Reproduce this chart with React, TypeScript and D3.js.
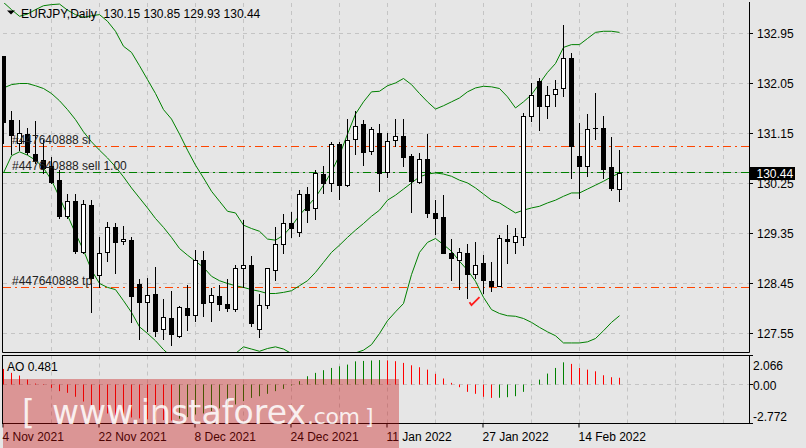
import React, { useEffect } from "react";
import * as d3 from "d3";

// ---------- data ----------
const symbolTitle = "EURJPY,Daily  130.15 130.85 129.93 130.44";
const aoTitle = "AO 0.481";

const tickIdx = [0, 12, 24, 36, 48, 60, 72];
const tickLabels = ["4 Nov 2021", "22 Nov 2021", "8 Dec 2021", "24 Dec 2021", "11 Jan 2022", "27 Jan 2022", "14 Feb 2022"];
const priceTicks = [132.95, 132.05, 131.15, 130.25, 129.35, 128.45, 127.55];
const aoTicks = [2.066, 0, -2.772];

const opens = [132.54, 131.40, 130.98, 131.14, 130.79, 130.67, 130.56, 130.31, 129.67, 129.93,
  129.02, 129.86, 128.61, 129.02, 129.46, 129.21, 129.24, 128.44, 128.11, 128.26,
  127.63, 127.83, 127.50, 128.00, 127.88, 128.88, 128.11, 128.23, 128.08, 127.99,
  128.73, 128.78, 127.63, 128.06, 128.70, 129.17, 129.53, 129.37, 130.06, 129.80,
  130.42, 130.25, 130.96, 130.23, 131.05, 131.32, 130.84, 131.16, 130.45, 131.03,
  131.10, 130.74, 130.28, 130.69, 129.71, 129.64, 129.00, 128.88, 129.00, 128.63,
  128.81, 128.50, 128.40, 129.26, 129.20, 129.29, 131.46, 132.09, 131.65, 131.86,
  131.97, 132.51, 130.75, 130.57, 131.25, 131.25, 130.55, 130.15];
const highs = [132.55, 131.55, 131.40, 131.25, 131.38, 131.03, 130.72, 130.49, 130.07, 130.06,
  129.95, 129.95, 129.29, 129.55, 129.54, 129.48, 129.28, 128.53, 128.55, 128.74,
  128.17, 128.31, 128.05, 128.43, 129.06, 129.03, 128.37, 128.43, 128.53, 128.78,
  129.59, 128.94, 128.26, 128.72, 129.46, 129.70, 129.74, 130.13, 130.19, 130.50,
  130.56, 130.99, 130.99, 131.41, 131.56, 131.40, 131.26, 131.32, 131.16, 131.42,
  131.41, 130.79, 130.80, 131.14, 129.95, 130.04, 129.26, 129.09, 129.17, 129.20,
  128.97, 128.83, 129.33, 129.50, 129.44, 131.52, 132.06, 132.15, 132.00, 132.12,
  133.11, 132.59, 131.34, 131.50, 131.87, 131.47, 131.09, 130.85];
const lows = [130.98, 130.79, 130.85, 130.79, 130.62, 130.43, 130.25, 129.63, 129.63, 128.99,
  128.99, 127.93, 128.38, 128.85, 128.64, 129.17, 127.75, 127.45, 127.60, 127.51,
  127.46, 127.35, 127.48, 127.61, 127.78, 127.87, 127.77, 127.97, 127.95, 127.95,
  128.38, 127.69, 127.48, 128.00, 128.52, 129.00, 129.28, 129.30, 129.56, 129.61,
  130.08, 130.12, 129.98, 130.21, 130.79, 130.58, 130.78, 130.12, 130.37, 130.93,
  130.56, 129.73, 130.26, 129.65, 129.35, 128.99, 128.52, 128.35, 128.19, 128.55,
  128.27, 128.32, 128.40, 128.82, 129.00, 129.15, 131.38, 131.22, 131.43, 131.65,
  131.82, 130.35, 129.99, 130.39, 131.05, 130.35, 130.13, 129.93];
const closes = [131.36, 131.13, 131.16, 130.81, 130.67, 130.52, 130.28, 129.67, 129.93, 129.03,
  129.88, 128.55, 129.00, 129.46, 129.20, 129.26, 128.23, 128.12, 128.25, 127.59,
  127.85, 127.54, 128.02, 127.88, 128.88, 128.09, 128.25, 128.08, 128.00, 128.72,
  128.79, 127.73, 128.06, 128.72, 129.17, 129.53, 129.44, 130.07, 129.78, 130.43,
  130.26, 130.96, 130.23, 131.03, 131.29, 130.82, 131.23, 130.43, 131.01, 131.10,
  130.73, 130.30, 130.69, 129.72, 129.62, 128.99, 128.90, 129.02, 128.63, 128.79,
  128.52, 128.40, 129.27, 129.22, 129.31, 131.47, 131.85, 131.64, 131.85, 131.95,
  132.51, 130.93, 130.57, 131.23, 131.24, 130.51, 130.17, 130.44];

const bbUpper = [133.51, 133.38, 133.26, 133.30, 133.38, 133.45, 133.47, 133.48, 133.37, 133.29,
  133.24, 133.27, 133.29, 133.17, 132.99, 132.72, 132.61, 132.37, 132.12, 131.87,
  131.58, 131.41, 131.14, 130.85, 130.58, 130.35, 130.11, 129.93, 129.75, 129.72,
  129.50, 129.44, 129.39, 129.25, 129.23, 129.32, 129.48, 129.68, 129.84, 130.00,
  130.22, 130.46, 130.76, 131.14, 131.50, 131.72, 131.90, 131.91, 132.01, 132.06,
  132.14, 132.03, 131.87, 131.72, 131.59, 131.65, 131.72, 131.79, 131.90, 131.97,
  132.00, 131.99, 131.96, 131.81, 131.61, 131.72, 131.85, 132.05, 132.25, 132.41,
  132.70, 132.75, 132.75, 132.86, 132.97, 132.99, 132.99, 132.97];
const bbMiddle = [131.97, 132.03, 132.05, 132.05, 132.01, 131.96, 131.87, 131.74, 131.58, 131.40,
  131.18, 131.00, 130.85, 130.71, 130.55, 130.37, 130.17, 129.99, 129.81, 129.62,
  129.46, 129.28, 129.08, 128.96, 128.85, 128.74, 128.58, 128.50, 128.45, 128.41,
  128.38, 128.34, 128.31, 128.27, 128.27, 128.29, 128.32, 128.41, 128.50, 128.65,
  128.83, 129.01, 129.14, 129.28, 129.41, 129.53, 129.66, 129.77, 129.95, 130.04,
  130.15, 130.26, 130.37, 130.42, 130.44, 130.42, 130.38, 130.31, 130.26, 130.17,
  130.06, 129.95, 129.90, 129.81, 129.72, 129.77, 129.81, 129.84, 129.90, 129.95,
  130.02, 130.08, 130.08, 130.15, 130.22, 130.29, 130.37, 130.44];
const bbLower = [130.44, 130.75, 130.82, 130.76, 130.67, 130.53, 130.31, 130.00, 129.68, 129.35,
  129.05, 128.69, 128.45, 128.38, 128.34, 128.14, 127.93, 127.67, 127.55, 127.42,
  127.26, 127.13, 127.06, 127.00, 127.02, 127.06, 127.11, 127.17, 127.19, 127.19,
  127.31, 127.27, 127.23, 127.28, 127.31, 127.27, 127.19, 127.13, 127.06, 127.02,
  127.06, 127.11, 127.17, 127.19, 127.20, 127.25, 127.35, 127.55, 127.78, 127.94,
  128.09, 128.61, 129.01, 129.19, 129.26, 129.15, 129.03, 128.85, 128.69, 128.49,
  128.20, 127.98, 127.91, 127.87, 127.86, 127.82, 127.75, 127.66, 127.58, 127.51,
  127.38, 127.38, 127.38, 127.40, 127.46, 127.60, 127.75, 127.87];

const aoValues = [1.11, 0.83, 0.64, 0.35, 0.07, -0.03, -0.24, -0.47, -0.59, -0.87,
  -1.21, -1.54, -1.82, -2.06, -2.20, -2.25, -2.34, -2.41, -2.48, -2.50,
  -2.53, -2.56, -2.43, -2.32, -2.13, -2.06, -1.89, -1.70, -1.54, -1.42,
  -1.18, -0.95, -0.83, -0.66, -0.47, -0.31, -0.07, 0.24, 0.59, 0.83,
  1.02, 1.18, 1.30, 1.42, 1.65, 1.68, 1.71, 1.74, 1.72, 1.66,
  1.54, 1.37, 1.23, 1.06, 0.76, 0.43, 0.12, -0.19, -0.52, -0.66,
  -0.87, -0.95, -0.94, -0.90, -0.83, -0.52, -0.05, 0.35, 0.78, 1.18,
  1.58, 1.47, 1.18, 1.06, 0.94, 0.66, 0.52, 0.481];

const orderId = "#447640888";
const orderSL = 130.91;
const orderOpen = 130.455;
const orderTP = 128.37;
const bidPrice = 130.44;
const closeMarkIdx = 58.5;
const closeMarkPrice = 128.06;

// ---------- layout ----------
const W = 806, H = 448;
const L = 3, R = 749;
const mainTop = 3, mainBottom = 352;
const subTop = 355.5, subBottom = 423.5;
const BG = "#e6e6e6";
const GRID = "#c4c4c4";
const FONT = "'Liberation Sans', Arial, sans-serif";

export default function App() {
  useEffect(() => {
    document.body.style.margin = "0";
  }, []);

  const x = d3.scaleLinear().domain([0, 1]).range([3.5, 11.5]);
  const y = d3.scaleLinear().domain([127.55, 132.95]).range([333.5, 33.5]);
  const ya = d3.scaleLinear().domain([-2.772, 2.066]).range([subBottom, subTop]);

  const maxIdx = Math.floor(x.invert(R));
  const gridIdx = d3.range(6, maxIdx + 1, 6);

  const bandLine = (arr: number[]) =>
    d3.line<number>().x((_, i) => x(i)).y((d) => y(d)).curve(d3.curveLinear)(arr) || "";

  const crisp = (v: number) => Math.round(v - 0.5) + 0.5;

  const dash = "8,4,2,4";

  const cmx = x(closeMarkIdx), cmy = y(closeMarkPrice);

  return (
    <svg width={W} height={H} style={{ position: "absolute", left: 0, top: 0, background: BG }} fontFamily={FONT}>
      <defs>
        <clipPath id="mainClip"><rect x={L} y={mainTop} width={R - L} height={mainBottom - mainTop} /></clipPath>
        <clipPath id="subClip"><rect x={L} y={subTop} width={R - L} height={subBottom - subTop} /></clipPath>
      </defs>
      <rect x={0} y={0} width={W} height={H} fill={BG} />

      {/* grid main */}
      {priceTicks.map((p) => (
        <line key={"hg" + p} x1={L} x2={R} y1={crisp(y(p))} y2={crisp(y(p))} stroke={GRID} strokeDasharray="4,4" />
      ))}
      {gridIdx.map((i) => (
        <line key={"vg" + i} x1={x(i)} x2={x(i)} y1={mainTop} y2={mainBottom} stroke={GRID} strokeDasharray="4,4" />
      ))}
      {/* grid sub */}
      {gridIdx.map((i) => (
        <line key={"vgs" + i} x1={x(i)} x2={x(i)} y1={subTop} y2={subBottom} stroke={GRID} strokeDasharray="4,4" />
      ))}
      <line x1={L} x2={R} y1={crisp(ya(0))} y2={crisp(ya(0))} stroke={GRID} strokeDasharray="4,4" />

      {/* bid line */}
      <line x1={L} x2={R} y1={crisp(y(bidPrice))} y2={crisp(y(bidPrice))} stroke="#c0c0c0" />
      {/* order lines */}
      <line x1={L} x2={R} y1={crisp(y(orderSL))} y2={crisp(y(orderSL))} stroke="#ff4500" strokeDasharray={dash} />
      <line x1={L} x2={R} y1={crisp(y(orderOpen))} y2={crisp(y(orderOpen))} stroke="#008000" strokeDasharray={dash} />
      <line x1={L} x2={R} y1={crisp(y(orderTP))} y2={crisp(y(orderTP))} stroke="#ff4500" strokeDasharray={dash} />

      <g clipPath="url(#mainClip)">
        {/* Bollinger bands */}
        {[bbUpper, bbMiddle, bbLower].map((arr, k) => (
          <path key={"bb" + k} d={bandLine(arr)} fill="none" stroke="#008000" strokeWidth={1} />
        ))}
        {/* candles */}
        {opens.map((o, i) => {
          const c = closes[i];
          const cx = x(i);
          const top = Math.round(y(Math.max(o, c)));
          const bot = Math.round(y(Math.min(o, c)));
          const bull = c >= o;
          return (
            <g key={"c" + i}>
              <line x1={cx} x2={cx} y1={Math.round(y(highs[i]))} y2={Math.round(y(lows[i])) + 1} stroke="#000" />
              {bot - top < 1 ? (
                <line x1={cx - 2.5} x2={cx + 2.5} y1={top + 0.5} y2={top + 0.5} stroke="#000" />
              ) : (
                <rect x={cx - 2} y={top + 0.5} width={4} height={bot - top} fill={bull ? "#fff" : "#000"} stroke="#000" />
              )}
            </g>
          );
        })}
      </g>

      {/* order labels */}
      <text x={12} y={143.5} fontSize={12} fill="#222">{orderId + " sl"}</text>
      <text x={12} y={170} fontSize={12} fill="#222">{orderId + " sell 1.00"}</text>
      <text x={12} y={285} fontSize={12} fill="#222">{orderId + " tp"}</text>

      {/* close marker */}
      <path d={`M${cmx - 2},${cmy - 3} L${cmx},${cmy} L${cmx + 8},${cmy - 8}`} fill="none" stroke="#ff1a1a" strokeWidth={1.8} />

      {/* header */}
      <path d="M7,10.5 L15,10.5 L11,14.5 Z" fill="#000" />
      <text x={21} y={17.5} fontSize={12} fill="#000" style={{ whiteSpace: "pre" }}>{symbolTitle}</text>

      {/* borders main */}
      <line x1={2.5} x2={2.5} y1={56} y2={mainBottom + 0.5} stroke="#000" />
      <line x1={R + 0.5} x2={R + 0.5} y1={2} y2={mainBottom + 0.5} stroke="#000" />
      <line x1={2.5} x2={R + 0.5} y1={mainBottom + 0.5} y2={mainBottom + 0.5} stroke="#000" />

      {/* price axis */}
      {priceTicks.map((p) => (
        <g key={"pt" + p}>
          <line x1={R + 1} x2={R + 4} y1={crisp(y(p))} y2={crisp(y(p))} stroke="#000" />
          <text x={757} y={y(p) + 4.5} fontSize={12} fill="#000">{p.toFixed(2)}</text>
        </g>
      ))}
      <rect x={750} y={167} width={45} height={13} fill="#000" />
      <text x={756.5} y={177.5} fontSize={12} fill="#fff">{bidPrice.toFixed(2)}</text>

      {/* AO */}
      <g clipPath="url(#subClip)">
        {aoValues.map((v, i) => {
          const prev = i > 0 ? aoValues[i - 1] : Infinity;
          const col = v > prev ? "#008000" : "#ff0000";
          return <line key={"ao" + i} x1={x(i)} x2={x(i)} y1={ya(0)} y2={ya(v)} stroke={col} />;
        })}
      </g>
      <text x={7} y={371} fontSize={12} fill="#000">{aoTitle}</text>
      <rect x={2.5} y={subTop} width={R - 2} height={subBottom - subTop} fill="none" stroke="#000" />
      {aoTicks.map((v, k) => {
        const off = k === 0 ? 14.5 : k === 1 ? 5 : -3;
        return (
          <g key={"at" + v}>
            <line x1={R + 1} x2={R + 4} y1={crisp(ya(v))} y2={crisp(ya(v))} stroke="#000" />
            <text x={753} y={ya(v) + off} fontSize={12} fill="#000">{k === 0 ? v.toFixed(3) : k === 1 ? v.toFixed(2) : v.toFixed(3)}</text>
          </g>
        );
      })}

      {/* time axis */}
      {tickIdx.map((i, k) => (
        <g key={"tt" + i}>
          <line x1={x(i) - 0.5} x2={x(i) - 0.5} y1={subBottom} y2={subBottom + 4} stroke="#000" />
          <text x={x(i) - 1} y={440.5} fontSize={12} fill="#000">{tickLabels[k]}</text>
        </g>
      ))}

      {/* watermark */}
      <rect x={3} y={379} width={396} height={69} fill="rgb(200,12,12)" opacity={0.37} />
      <g fill="#fff" opacity={0.85} fontFamily="'DejaVu Sans', sans-serif">
        <text x={22} y={424} fontSize={33}>[</text>
        <text x={52} y={424} fontSize={33} textLength={254} lengthAdjust="spacing">www.instaforex</text>
        <text x={307} y={424} fontSize={22} textLength={53} lengthAdjust="spacing">.com</text>
        <text x={365} y={424} fontSize={22}>]</text>
      </g>
    </svg>
  );
}
